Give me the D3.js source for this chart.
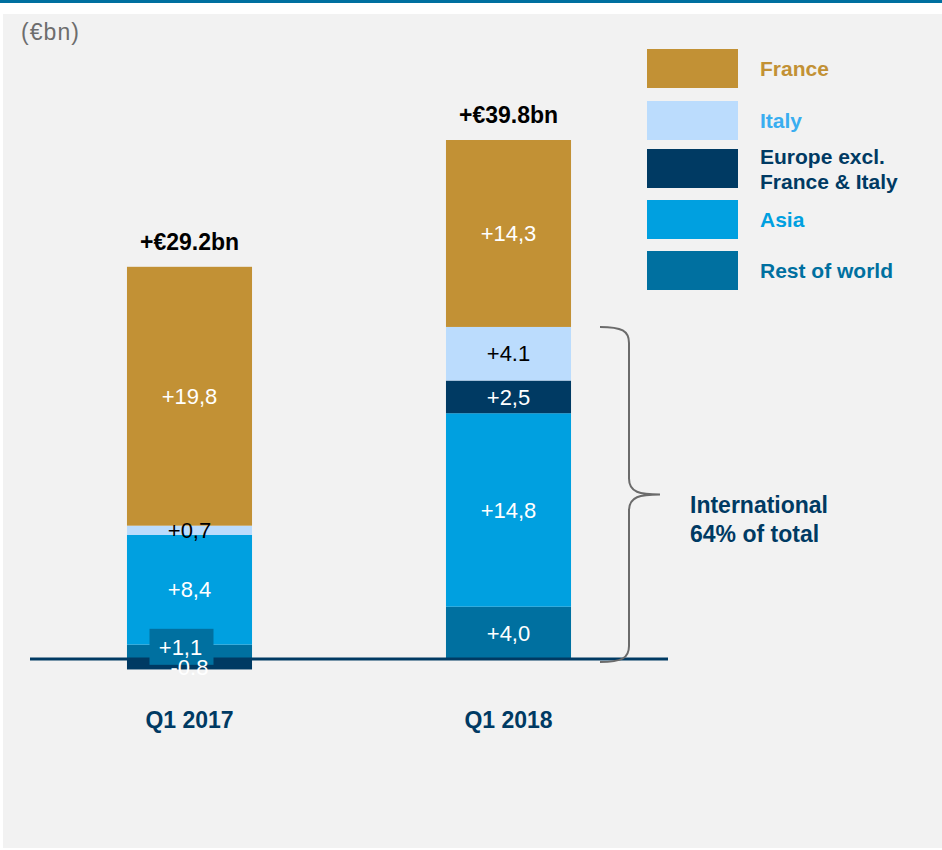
<!DOCTYPE html>
<html>
<head>
<meta charset="utf-8">
<script src="https://cdnjs.cloudflare.com/ajax/libs/d3/7.8.5/d3.min.js"></script>
<style>
  body { margin: 0; background: #fff; }
  svg { display: block; font-family: "Liberation Sans", Arial, sans-serif; }
</style>
</head>
<body>
<svg id="chart" width="942" height="850"></svg>
<script>
// Chart data.
const categories = ['Q1 2017', 'Q1 2018'];
const regions = ['Rest of world', 'Asia', 'Europe excl. France & Italy', 'Italy', 'France'];
const rowValues = [1.1, 4.0];
const asiaValues = [8.4, 14.8];
const europeValues = [-0.8, 2.5];
const italyValues = [0.7, 4.1];
const franceValues = [19.8, 14.3];
const rowLabels = ['+1,1', '+4,0'];
const asiaLabels = ['+8,4', '+14,8'];
const europeLabels = ['-0.8', '+2,5'];
const italyLabels = ['+0,7', '+4.1'];
const franceLabels = ['+19,8', '+14,3'];
const totalLabels = ['+€29.2bn', '+€39.8bn'];
const legendNames = ['France', 'Italy', 'Europe excl.|France & Italy', 'Asia', 'Rest of world'];

const COLORS = {
  'France': '#c29135',
  'Italy': '#bbdcfd',
  'Europe excl. France & Italy': '#003a63',
  'Asia': '#00a0e0',
  'Rest of world': '#0070a0',
};
const LEGEND_TEXT = {
  'France': '#c29135',
  'Italy': '#3aaef0',
  'Europe excl. France & Italy': '#003a63',
  'Asia': '#00a0e0',
  'Rest of world': '#0070a0',
};
const NAVY = '#003a63';

const svg = d3.select('#chart');

// Page frame: blue rule on top, grey panel below.
svg.append('rect').attr('x', 0).attr('y', 0).attr('width', 942).attr('height', 3)
    .attr('fill', '#0070a0');
svg.append('rect').attr('x', 3).attr('y', 14).attr('width', 939).attr('height', 834)
    .attr('fill', '#f2f2f2');

svg.append('text')
    .attr('x', 21).attr('y', 40)
    .attr('font-size', 23)
    .attr('fill', '#6d6d6d')
    .attr('textLength', 58)
    .text('(€bn)');

const seriesValues = [rowValues, asiaValues, europeValues, italyValues, franceValues];
const seriesLabels = [rowLabels, asiaLabels, europeLabels, italyLabels, franceLabels];

const x = d3.scaleBand()
    .domain(categories)
    .range([30, 668])
    .paddingInner(0.608)
    .paddingOuter(0.304);
const y = d3.scaleLinear()
    .domain([0, 39.7])
    .range([659, 140]);

// Build stacked segments (positives up from zero, negatives down).
const segments = [];
categories.forEach((cat, i) => {
  let pos = 0;
  let neg = 0;
  regions.forEach((region, s) => {
    const v = seriesValues[s][i];
    let y0;
    let y1;
    if (v >= 0) {
      y0 = pos; y1 = pos + v; pos = y1;
    } else {
      y0 = neg + v; y1 = neg; neg = y0;
    }
    segments.push({cat, region, v, y0, y1, label: seriesLabels[s][i]});
  });
});

const barGroup = svg.append('g');
barGroup.selectAll('rect')
    .data(segments)
    .join('rect')
    .attr('x', d => x(d.cat))
    .attr('width', x.bandwidth())
    .attr('y', d => y(d.y1))
    .attr('height', d => y(d.y0) - y(d.y1))
    .attr('fill', d => COLORS[d.region]);

// Baseline.
svg.append('line')
    .attr('x1', 30).attr('x2', 668)
    .attr('y1', y(0)).attr('y2', y(0))
    .attr('stroke', NAVY)
    .attr('stroke-width', 3);

// Segment labels; the thin positive dark segment gets a backing box.
const labelGroup = svg.append('g').attr('font-size', 22).attr('text-anchor', 'middle');
segments.forEach(d => {
  const cx = x(d.cat) + x.bandwidth() / 2;
  const h = y(d.y0) - y(d.y1);
  let cy = (y(d.y0) + y(d.y1)) / 2;
  const light = d.region === 'Italy';
  const boxed = h < 20 && d.v > 0 && !light;
  if (boxed) {
    cy -= 5;
    labelGroup.append('rect')
        .attr('x', cx - 40).attr('y', cy - 18)
        .attr('width', 64).attr('height', 36)
        .attr('fill', COLORS[d.region]);
  }
  labelGroup.append('text')
      .attr('x', boxed ? cx - 9 : cx)
      .attr('y', d.v < 0 ? cy + 3 : cy)
      .attr('dy', '0.35em')
      .attr('fill', light ? '#000' : '#fff')
      .text(d.label);
});

// Totals above bars.
svg.append('g')
    .selectAll('text')
    .data(categories)
    .join('text')
    .attr('x', d => x(d) + x.bandwidth() / 2)
    .attr('y', (d, i) => y(d3.sum(seriesValues, s => Math.max(0, s[i]))) - 25)
    .attr('dy', '0.35em')
    .attr('text-anchor', 'middle')
    .attr('font-size', 23)
    .attr('font-weight', 'bold')
    .attr('fill', '#000')
    .text((d, i) => totalLabels[i]);

// Category axis labels.
svg.append('g')
    .selectAll('text')
    .data(categories)
    .join('text')
    .attr('x', d => x(d) + x.bandwidth() / 2)
    .attr('y', 720)
    .attr('dy', '0.35em')
    .attr('text-anchor', 'middle')
    .attr('font-size', 23)
    .attr('font-weight', 'bold')
    .attr('fill', NAVY)
    .text(d => d);

// Legend.
const legendY = [49, 101, 149, 200, 251];
const legend = svg.append('g');
legendNames.forEach((name, i) => {
  const key = name.replace('|', ' ');
  const g = legend.append('g').attr('transform', `translate(647,${legendY[i]})`);
  g.append('rect').attr('width', 91).attr('height', 39).attr('fill', COLORS[key]);
  const lines = name.split('|');
  const t = g.append('text')
      .attr('font-size', 21)
      .attr('font-weight', 'bold')
      .attr('fill', LEGEND_TEXT[key]);
  lines.forEach((ln, j) => {
    t.append('tspan')
        .attr('x', 113)
        .attr('y', lines.length > 1 ? 8 + j * 25 : 20)
        .attr('dy', '0.35em')
        .text(ln);
  });
});

// Brace around the international segments of Q1 2018.
const braceTop = y(seriesValues.slice(0, 4).reduce((a, s) => a + s[1], 0));
const braceBot = y(0) + 3;
const bx = 600;
const mid = (braceTop + braceBot) / 2;
const brace = d3.path();
brace.moveTo(bx, braceTop);
brace.bezierCurveTo(bx + 22, braceTop, bx + 29, braceTop + 4, bx + 29, braceTop + 16);
brace.lineTo(bx + 29, mid - 16);
brace.bezierCurveTo(bx + 29, mid - 2, bx + 40, mid, bx + 60, mid);
brace.bezierCurveTo(bx + 40, mid, bx + 29, mid + 2, bx + 29, mid + 16);
brace.lineTo(bx + 29, braceBot - 16);
brace.bezierCurveTo(bx + 29, braceBot - 4, bx + 22, braceBot, bx, braceBot);
svg.append('path')
    .attr('d', brace.toString())
    .attr('fill', 'none')
    .attr('stroke', '#6b6b6b')
    .attr('stroke-width', 2);

const intl = svg.append('text')
    .attr('font-size', 23)
    .attr('font-weight', 'bold')
    .attr('fill', NAVY);
['International', '64% of total'].forEach((ln, j) => {
  intl.append('tspan').attr('x', 690).attr('y', 505 + j * 29).attr('dy', '0.35em').text(ln);
});
</script>
</body>
</html>
